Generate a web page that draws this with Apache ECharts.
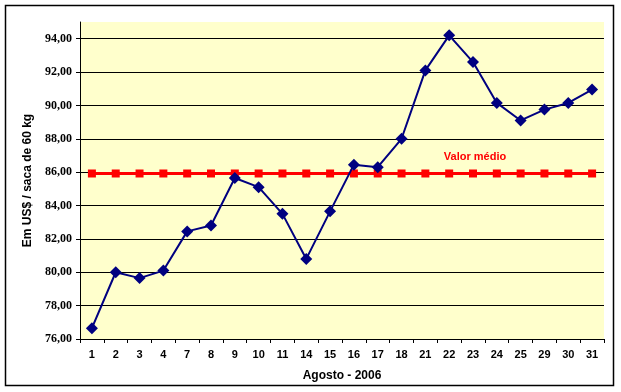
<!DOCTYPE html>
<html>
<head>
<meta charset="utf-8">
<script src="https://cdn.jsdelivr.net/npm/echarts@6/dist/echarts.min.js"></script>
<style>html,body{margin:0;padding:0;background:#fff}#c{width:621px;height:392px}</style>
</head>
<body>
<div id="c"></div>
<script>
const categories = ['1','2','3','4','7','8','9','10','11','14','15','16','17','18','21','22','23','24','25','29','30','31'];
const prices = [76.65,80.0,79.65,80.1,82.45,82.8,85.65,85.1,83.5,80.8,83.65,86.45,86.3,88.0,92.1,94.2,92.6,90.15,89.1,89.75,90.15,90.95];
const mean = [85.92,85.92,85.92,85.92,85.92,85.92,85.92,85.92,85.92,85.92,85.92,85.92,85.92,85.92,85.92,85.92,85.92,85.92,85.92,85.92,85.92,85.92];
const yMin = 76, yMax = 95, yStep = 2;
const yTitle = 'Em US$ / saca de 60 kg';
const xTitle = 'Agosto - 2006';
const meanLabel = 'Valor médio';

const chart = echarts.init(document.getElementById('c'), null, {renderer:'canvas'});
chart.setOption({
  animation: false,
  backgroundColor: '#ffffff',
  grid: {left: 80, top: 22, width: 524, height: 317, show: true, backgroundColor: '#FFFFCC', borderWidth: 0},
  graphic: [
    {type:'rect', shape:{x:5.5, y:5.5, width:608, height:380}, style:{fill:'none', stroke:'#000', lineWidth:1.5}, z:-1},
    {type:'text', x:475, y:157, style:{text: meanLabel, fill:'#FF0000', font:'bold 11px "Liberation Sans", Arial', align:'center', verticalAlign:'middle'}}
  ],
  xAxis: {
    type: 'category',
    data: categories,
    boundaryGap: true,
    name: xTitle,
    nameLocation: 'middle',
    nameGap: 31,
    nameTextStyle: {color:'#000', fontFamily:'"Liberation Sans", Arial', fontWeight:'bold', fontSize:12},
    axisLine: {show:true, lineStyle:{color:'#000', width:1}},
    axisTick: {show:true, alignWithLabel:false, length:4, lineStyle:{color:'#000'}},
    axisLabel: {color:'#000', fontFamily:'"Liberation Sans", Arial', fontWeight:'bold', fontSize:11, margin:10, interval:0},
    splitLine: {show:false}
  },
  yAxis: {
    type: 'value',
    min: yMin, max: yMax, interval: yStep,
    name: yTitle,
    nameLocation: 'middle',
    nameGap: 38,
    nameRotate: 90,
    nameTextStyle: {color:'#000', fontFamily:'"Liberation Sans", Arial', fontWeight:'bold', fontSize:12},
    axisLine: {show:true, lineStyle:{color:'#000', width:1}},
    axisTick: {show:true, length:4, lineStyle:{color:'#000'}},
    axisLabel: {color:'#000', fontFamily:'"Liberation Serif", "Times New Roman", serif', fontWeight:'bold', fontSize:12, margin:8, showMaxLabel:false,
      formatter: v => (v === yMax ? '' : v.toFixed(2).replace('.', ','))},
    splitLine: {show:true, showMaxLine:false, showMinLine:false, lineStyle:{color:'#000', width:1}}
  },
  series: [
    {
      type:'line', data: prices, symbol:'diamond', symbolSize:12, showAllSymbol:true,
      lineStyle:{color:'#000080', width:2}, itemStyle:{color:'#000080'}, z:3
    },
    {
      type:'line', data: mean, symbol:'rect', symbolSize:8, showAllSymbol:true,
      lineStyle:{color:'#FF0000', width:3}, itemStyle:{color:'#FF0000'}, z:2
    }
  ]
});
</script>
</body>
</html>
